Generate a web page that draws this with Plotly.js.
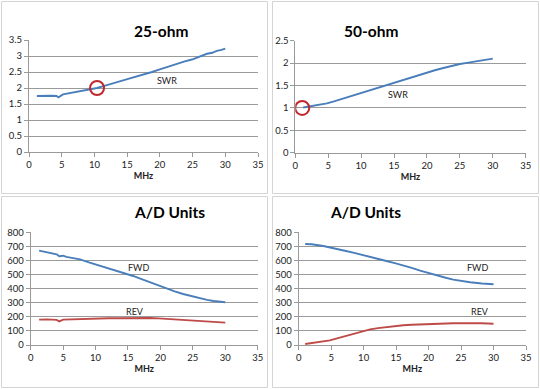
<!DOCTYPE html>
<html>
<head>
<meta charset="utf-8">
<script src="https://cdn.plot.ly/plotly-3.0.1.min.js"></script>
<style>html,body{margin:0;padding:0;background:#fff;}#chart{width:540px;height:389px;}</style>
</head>
<body>
<div id="chart"></div>
<script>
// Panel 1: 25-ohm SWR
const swr25_x = [1.2, 2, 3, 3.5, 4.2, 4.5, 5.2, 6, 7.3, 8.8, 10.4, 11.4, 12.4, 13.6, 14.9, 16.2, 17.5, 18.8, 20, 21.3, 22.6, 23.8, 24.9, 26, 27.2, 28, 28.7, 29.4, 30];
const swr25_y = [1.75, 1.76, 1.77, 1.76, 1.75, 1.71, 1.80, 1.83, 1.87, 1.94, 2.0, 2.06, 2.11, 2.19, 2.27, 2.34, 2.43, 2.50, 2.58, 2.67, 2.76, 2.83, 2.89, 2.97, 3.07, 3.10, 3.16, 3.19, 3.23];
// Panel 2: 50-ohm SWR
const swr50_x = [1.2, 3, 4.8, 6, 7.3, 8.5, 9.8, 11.1, 12.4, 13.6, 14.9, 16.2, 17.4, 18.7, 20, 21.2, 22.5, 23.8, 25, 26.3, 27.6, 28.8, 30];
const swr50_y = [1.01, 1.05, 1.10, 1.15, 1.21, 1.26, 1.32, 1.38, 1.44, 1.49, 1.55, 1.62, 1.68, 1.73, 1.79, 1.84, 1.89, 1.94, 1.98, 2.01, 2.04, 2.07, 2.10];
// Panel 3: A/D units, 25-ohm
const ad25_x = [1.3, 2.5, 4.0, 4.4, 5.0, 5.5, 6.6, 7.6, 9.1, 10.7, 12.0, 13.3, 14.5, 15.8, 17.1, 18.4, 19.7, 21.0, 22.2, 23.5, 24.8, 26.1, 27.2, 28.2, 30];
const ad25_fwd = [670, 658, 644, 630, 634, 625, 615, 608, 585, 563, 544, 525, 508, 490, 468, 445, 423, 402, 381, 362, 346, 331, 320, 312, 303];
const ad25_rev = [180, 182, 178, 168, 180, 181, 183, 185, 187, 189, 190, 190, 191, 192, 192, 192, 189, 185, 180, 175, 172, 168, 165, 163, 159];
// Panel 4: A/D units, 50-ohm
const ad50_x = [1.0, 2.0, 3.8, 4.6, 4.8, 5.9, 7.1, 8.4, 9.7, 11.0, 12.2, 13.5, 14.8, 16.1, 17.4, 18.7, 19.9, 21.2, 22.5, 23.8, 25.1, 26.4, 28.2, 30];
const ad50_fwd = [717, 715, 703, 696, 691, 682, 669, 656, 642, 627, 612, 596, 581, 566, 547, 528, 511, 495, 479, 464, 454, 445, 437, 431];
const ad50_rev = [7, 14, 26, 31, 33, 47, 62, 76, 90, 111, 120, 128, 134, 140, 144, 147, 148, 149, 152, 154, 155, 156, 154, 151];
// Markers (red circles)
const circle25 = {x: [10.4], y: [2.0]};
const circle50 = {x: [1.05], y: [1.0]};
const titles = ['25-ohm', '50-ohm', 'A/D Units', 'A/D Units'];
const xTickVals = [0, 5, 10, 15, 20, 25, 30, 35];

const blue = '#4a7ebb', red = '#be4b48', circ = '#c0282e';
const gridC = '#9a9a9a';
const tickFont = {family: 'Lato, "Liberation Sans", sans-serif', size: 9.5, color: '#222'};

function xax(domain, anchor) {
  return {domain: domain, anchor: anchor, range: [0, 35], tickvals: xTickVals, showgrid: false, zeroline: false,
    showline: true, linecolor: gridC, linewidth: 1, ticks: 'outside', ticklen: 4, tickcolor: gridC,
    tickfont: tickFont, fixedrange: true,
    title: {text: '<b>MHz</b>', font: {family: 'Lato, "Liberation Sans", sans-serif', size: 9, color: '#222'}, standoff: 3}};
}
function yax(domain, anchor, range, dtick) {
  return {domain: domain, anchor: anchor, range: range, dtick: dtick, showgrid: true, gridcolor: gridC, gridwidth: 1,
    zeroline: false, showline: true, linecolor: gridC, linewidth: 1, ticks: 'outside', ticklen: 4, tickcolor: gridC,
    tickfont: tickFont, fixedrange: true};
}

const lineW = 1.9;
const data = [
  {x: swr25_x, y: swr25_y, xaxis: 'x', yaxis: 'y', mode: 'lines', line: {color: blue, width: lineW}},
  {x: circle25.x, y: circle25.y, xaxis: 'x', yaxis: 'y', mode: 'markers', marker: {symbol: 'circle-open', size: 14, color: circ, line: {width: 2, color: circ}}},
  {x: swr50_x, y: swr50_y, xaxis: 'x2', yaxis: 'y2', mode: 'lines', line: {color: blue, width: lineW}},
  {x: circle50.x, y: circle50.y, xaxis: 'x2', yaxis: 'y2', mode: 'markers', marker: {symbol: 'circle-open', size: 14, color: circ, line: {width: 2, color: circ}}},
  {x: ad25_x, y: ad25_fwd, xaxis: 'x3', yaxis: 'y3', mode: 'lines', line: {color: blue, width: lineW}},
  {x: ad25_x, y: ad25_rev, xaxis: 'x3', yaxis: 'y3', mode: 'lines', line: {color: red, width: lineW}},
  {x: ad50_x, y: ad50_fwd, xaxis: 'x4', yaxis: 'y4', mode: 'lines', line: {color: blue, width: lineW}},
  {x: ad50_x, y: ad50_rev, xaxis: 'x4', yaxis: 'y4', mode: 'lines', line: {color: red, width: lineW}}
];

const W = 540, H = 389;
const px = (a, b) => [a / W, b / W];
const py = (top, bot) => [1 - bot / H, 1 - top / H];

const lblFont = {family: 'Lato, "Liberation Sans", sans-serif', size: 9, color: '#222'};
const ttlFont = {family: 'Lato, "Liberation Sans", sans-serif', size: 15.5, color: '#000', weight: 'bold'};

const annotations = [
  {text: '<b>' + titles[0] + '</b>', xref: 'paper', yref: 'paper', x: 132 / W, y: 1 - 20 / H, showarrow: false, font: ttlFont},
  {text: '<b>' + titles[1] + '</b>', xref: 'paper', yref: 'paper', x: 400 / W, y: 1 - 20 / H, showarrow: false, font: ttlFont},
  {text: '<b>' + titles[2] + '</b>', xref: 'paper', yref: 'paper', x: 132 / W, y: 1 - 212 / H, showarrow: false, font: ttlFont},
  {text: '<b>' + titles[3] + '</b>', xref: 'paper', yref: 'paper', x: 403 / W, y: 1 - 212 / H, showarrow: false, font: ttlFont},
  {text: 'SWR', xref: 'x', yref: 'y', x: 21.1, y: 2.23, showarrow: false, font: lblFont},
  {text: 'SWR', xref: 'x2', yref: 'y2', x: 15.6, y: 1.29, showarrow: false, font: lblFont},
  {text: 'FWD', xref: 'x3', yref: 'y3', x: 16.6, y: 551, showarrow: false, font: lblFont},
  {text: 'REV', xref: 'x3', yref: 'y3', x: 16.1, y: 241, showarrow: false, font: lblFont},
  {text: 'FWD', xref: 'x4', yref: 'y4', x: 27.6, y: 549, showarrow: false, font: lblFont},
  {text: 'REV', xref: 'x4', yref: 'y4', x: 27.9, y: 241, showarrow: false, font: lblFont}
];

const borderC = '#d4d4d4';
function box(x0, y0, x1, y1) {
  return {type: 'rect', xref: 'paper', yref: 'paper', x0: x0 / W, x1: x1 / W, y0: 1 - y1 / H, y1: 1 - y0 / H,
    line: {color: borderC, width: 1}, fillcolor: 'rgba(0,0,0,0)', layer: 'below'};
}

const layout = {
  width: W, height: H, margin: {l: 0, r: 0, t: 0, b: 0}, paper_bgcolor: '#fff', plot_bgcolor: '#fff',
  showlegend: false,
  xaxis: xax(px(29, 258), 'y'),
  yaxis: yax(py(40, 152), 'x', [0, 3.5], 0.5),
  xaxis2: xax(px(295.3, 525.7), 'y2'),
  yaxis2: yax(py(40.7, 152.7), 'x2', [0, 2.5], 0.5),
  xaxis3: xax(px(30.7, 257.7), 'y3'),
  yaxis3: yax(py(232.3, 345), 'x3', [0, 800], 100),
  xaxis4: xax(px(298.7, 526), 'y4'),
  yaxis4: yax(py(232.3, 345), 'x4', [0, 800], 100),
  annotations: annotations,
  shapes: [box(1.5, 1.5, 267.5, 193.5), box(272.5, 1.5, 538.5, 193.5), box(1.5, 196.5, 267.5, 387.5), box(272.5, 196.5, 538.5, 387.5)]
};

Plotly.newPlot('chart', data, layout, {staticPlot: true, displayModeBar: false});
</script>
</body>
</html>
